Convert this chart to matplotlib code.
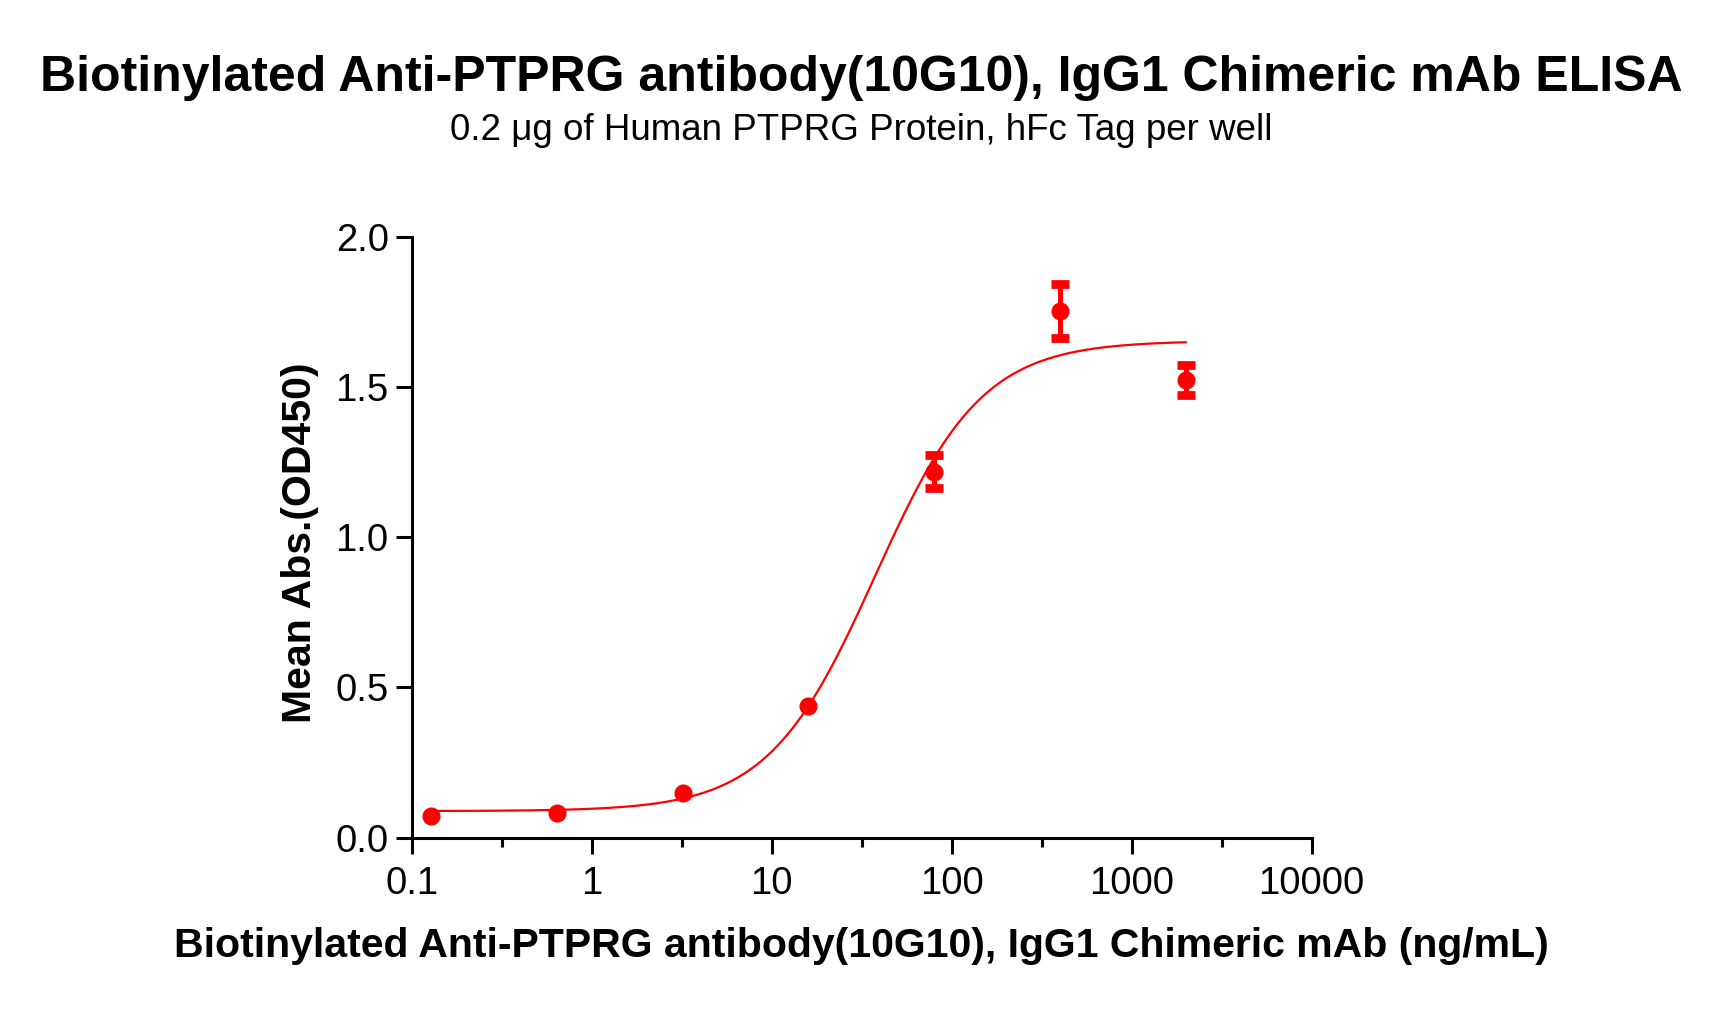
import numpy as np
import matplotlib
matplotlib.use("Agg")
import matplotlib.pyplot as plt
from matplotlib.ticker import FixedLocator, FixedFormatter, NullFormatter

plt.rcParams['font.family'] = ['Liberation Sans', 'DejaVu Sans']

# ELISA readings (5-fold dilution series)
conc = [0.128, 0.64, 3.2, 16, 80, 400, 2000]
od450 = [0.073, 0.081, 0.149, 0.438, 1.219, 1.753, 1.525]
od_sd = [0.0, 0.0, 0.0, 0.0, 0.055, 0.090, 0.050]

# 4PL fit parameters
fit_bottom = 0.088
fit_top = 1.655
fit_ec50 = 37.6
fit_hill = 1.46

x_ticks = [0.1, 1, 10, 100, 1000, 10000]
x_ticklabels = ["0.1", "1", "10", "100", "1000", "10000"]
x_minor = [0.316, 3.16, 31.6, 316, 3162]
y_ticks = [0.0, 0.5, 1.0, 1.5, 2.0]

title = "Biotinylated Anti-PTPRG antibody(10G10), IgG1 Chimeric mAb ELISA"
subtitle = "0.2 \u03bcg of Human PTPRG Protein, hFc Tag per well"
xlabel = "Biotinylated Anti-PTPRG antibody(10G10), IgG1 Chimeric mAb (ng/mL)"
ylabel = "Mean Abs.(OD450)"

fig = plt.figure(figsize=(17.23, 10.18), dpi=100)
ax = fig.add_axes([0.2389, 0.1773, 0.7612 - 0.2389, 0.7669 - 0.1773])

xs = np.logspace(np.log10(conc[0]), np.log10(conc[-1]), 300)
ys = fit_bottom + (fit_top - fit_bottom) / (1 + (fit_ec50 / xs) ** fit_hill)
ax.plot(xs, ys, color="red", lw=1.6, zorder=2)

# error bars only where the SD is larger than the symbol
has_err = [s > 0 for s in od_sd]
ex = [c for c, h in zip(conc, has_err) if h]
ey = [v for v, h in zip(od450, has_err) if h]
es = [s for s, h in zip(od_sd, has_err) if h]
ax.errorbar(ex, ey, yerr=es, fmt="none", ecolor="red",
            elinewidth=3.6, capsize=6.3, capthick=6.3, zorder=3)
ax.plot(conc, od450, "o", color="red", ms=12, zorder=4, clip_on=False)

ax.set_xscale("log")
ax.set_xlim(0.1, 10000)
ax.set_ylim(0, 2.0)
ax.xaxis.set_major_locator(FixedLocator(x_ticks))
ax.xaxis.set_major_formatter(FixedFormatter(x_ticklabels))
ax.xaxis.set_minor_locator(FixedLocator(x_minor))
ax.xaxis.set_minor_formatter(NullFormatter())
ax.set_yticks(y_ticks)
ax.set_yticklabels([f"{v:.1f}" for v in y_ticks])

for side in ["top", "right"]:
    ax.spines[side].set_visible(False)
for side in ["left", "bottom"]:
    ax.spines[side].set_linewidth(2.2)

ax.tick_params(axis="both", which="major", length=11.5, width=2.2,
               labelsize=27.5, direction="out")
ax.tick_params(axis="x", which="minor", length=6.5, width=2.2)
ax.tick_params(axis="x", which="major", pad=9)
ax.tick_params(axis="y", which="major", pad=5)

fig.text(0.5, 0.9106, title, ha="center", va="baseline",
         fontsize=36, fontweight="bold")
fig.text(0.5, 0.8625, subtitle, ha="center", va="baseline", fontsize=26.5)
fig.text(0.5, 0.0602, xlabel, ha="center", va="baseline",
         fontsize=29.5, fontweight="bold")
fig.text(0.1741, 0.4666, ylabel, ha="center", va="center", rotation=90,
         fontsize=29.5, fontweight="bold")

fig.savefig("out.png", dpi=100)
